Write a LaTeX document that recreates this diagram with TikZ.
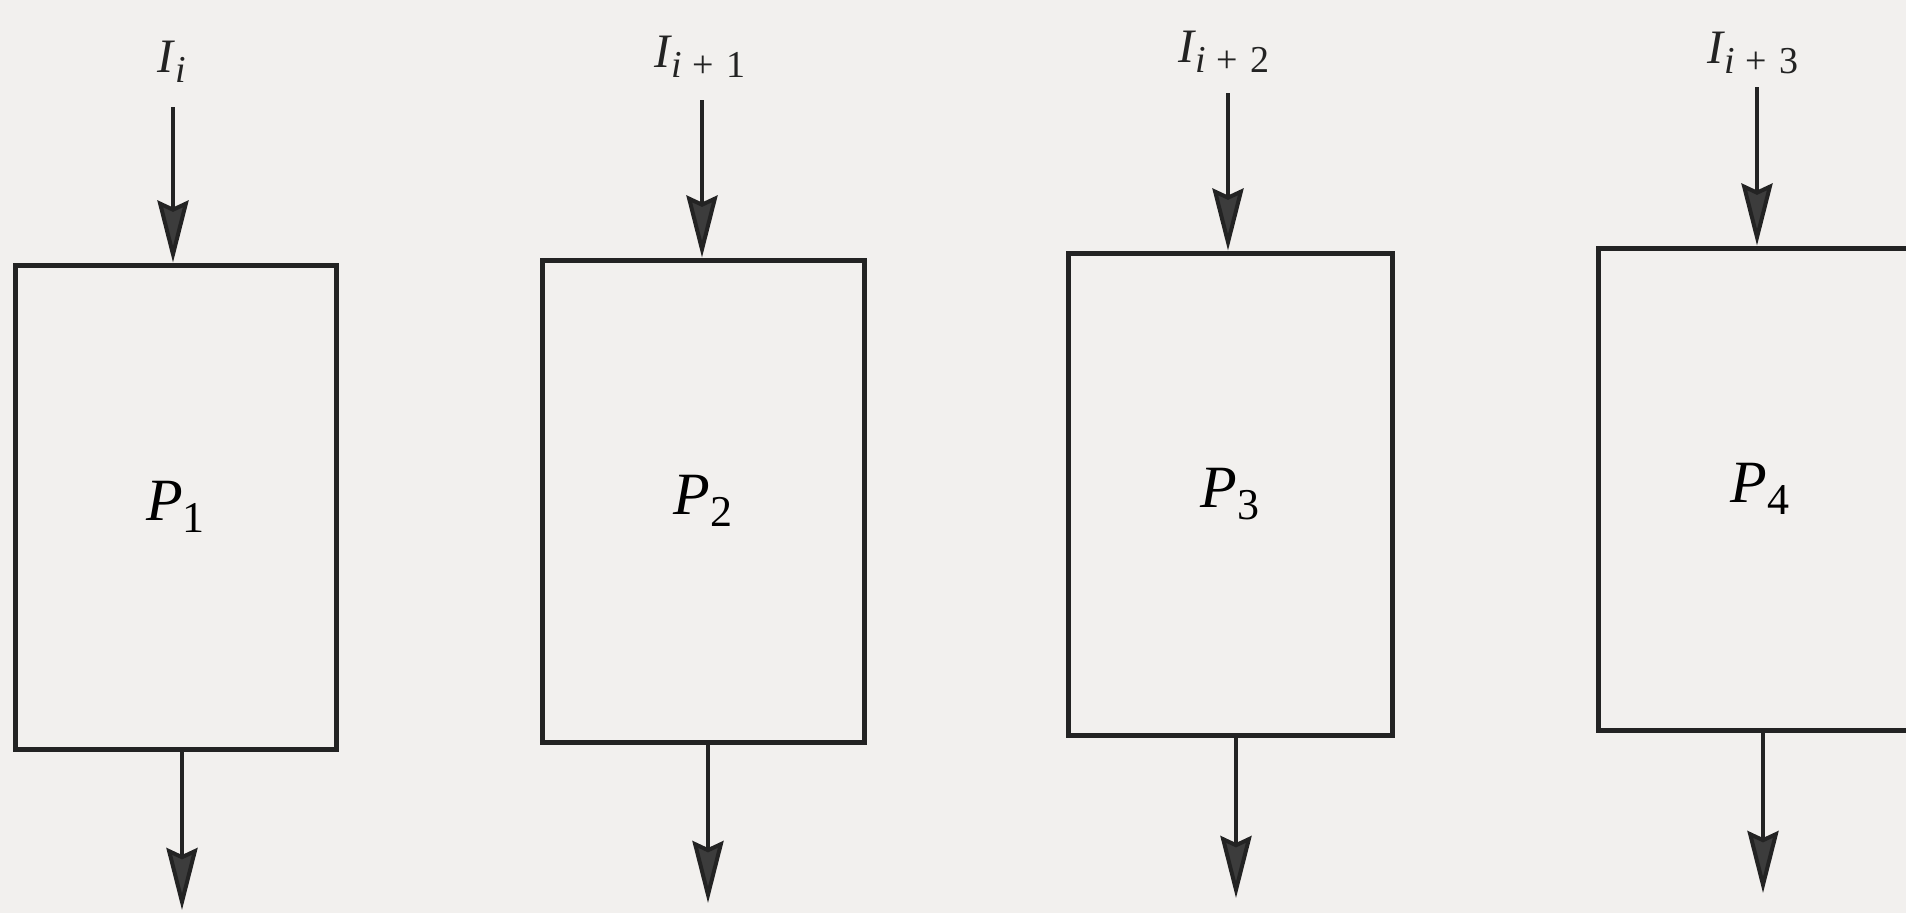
\documentclass[tikz,border=0pt]{standalone}
\usepackage{fontspec}
\setmainfont{Liberation Serif}
\usetikzlibrary{arrows.meta}
\definecolor{paper}{RGB}{242,240,238}
\definecolor{ink}{RGB}{35,35,35}
\definecolor{headgray}{RGB}{60,60,60}
\newcommand{\inlab}[1]{\fontsize{48}{48}\selectfont\textit{I}\raisebox{-10pt}{\fontsize{38}{38}\selectfont #1}}
\newcommand{\plab}[1]{\fontsize{60}{60}\selectfont\textit{P}\raisebox{-12pt}{\fontsize{44}{44}\selectfont #1}}
\tikzset{
  procbox/.style={draw=ink, line width=5pt, rectangle, inner sep=0pt, fill=paper},
  flow/.style={draw=ink, line width=4pt, -{Stealth[length=62pt,width=31pt,inset=7pt,fill=headgray]}},
  inlabel/.style={anchor=base, inner sep=0pt, text=ink},
}
\begin{document}
\begin{tikzpicture}[x=1pt,y=-1pt]
\useasboundingbox (0,0) rectangle (1906,913);
\clip (0,0) rectangle (1906,913);
\fill[paper] (0,0) rectangle (1906,913);
% boxes
\node[procbox, minimum width=321pt, minimum height=484pt] (p1) at (175.5,507) {\plab{1}};
\node[procbox, minimum width=322pt, minimum height=482pt] (p2) at (703,501) {\plab{2}};
\node[procbox, minimum width=324pt, minimum height=482pt] (p3) at (1230,494) {\plab{3}};
\node[procbox, minimum width=324pt, minimum height=482pt] (p4) at (1760,489) {\plab{4}};
% input labels
\node[inlabel] (l1) at (172,72) {\inlab{\textit{i}}};
\node[inlabel] (l2) at (700,67) {\inlab{\textit{i}\hspace{10pt}+\hspace{13pt}1}};
\node[inlabel] (l3) at (1224,62) {\inlab{\textit{i}\hspace{10pt}+\hspace{13pt}2}};
\node[inlabel] (l4) at (1753,63) {\inlab{\textit{i}\hspace{10pt}+\hspace{13pt}3}};
% arrow ends
\coordinate (a1) at (173,107);
\coordinate (a2) at (702,100);
\coordinate (a3) at (1228,93);
\coordinate (a4) at (1757,87);
\coordinate (b1) at (182,910);
\coordinate (b2) at (708,903);
\coordinate (b3) at (1236,898);
\coordinate (b4) at (1763,893);
% input arrows
\draw[flow] (a1) -- (a1 |- p1.north);
\draw[flow] (a2) -- (a2 |- p2.north);
\draw[flow] (a3) -- (a3 |- p3.north);
\draw[flow] (a4) -- (a4 |- p4.north);
% output arrows
\draw[flow] (b1 |- p1.south) -- (b1);
\draw[flow] (b2 |- p2.south) -- (b2);
\draw[flow] (b3 |- p3.south) -- (b3);
\draw[flow] (b4 |- p4.south) -- (b4);
\end{tikzpicture}
\end{document}
